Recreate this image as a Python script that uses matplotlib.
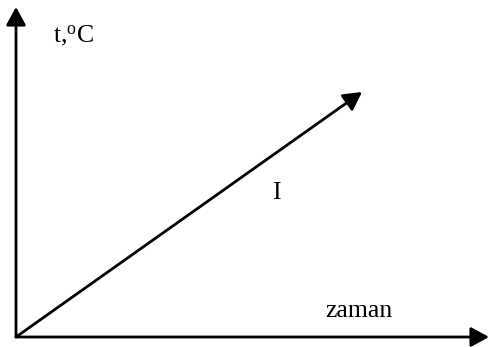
import matplotlib
matplotlib.use("Agg")
import matplotlib.pyplot as plt

# data (origin of the sketch at the corner of the two axes)
axis_x_end = [0, 473]
axis_y_end = [0, 330]
line_x = [0, 346]
line_y = [0, 245]
y_label = "t,$^{\\mathrm{o}}$C"
x_label = "zaman"
line_label = "I"

plt.rcParams['font.family'] = ['Liberation Serif', 'DejaVu Serif']
plt.rcParams['mathtext.fontset'] = 'custom'
plt.rcParams['mathtext.rm'] = 'Liberation Serif'
plt.rcParams['mathtext.it'] = 'Liberation Serif:italic'

fig = plt.figure(figsize=(4.89, 3.47), dpi=100)
ax = fig.add_axes([0, 0, 1, 1])
ax.set_xlim(-16, 473)
ax.set_ylim(-10, 337)
ax.axis('off')

style = '-|>,head_length=0.55,head_width=0.3'
kw = dict(arrowstyle=style, color='black', lw=2.0, mutation_scale=20,
          shrinkA=0, shrinkB=0)
# y axis
ax.annotate('', xy=(axis_x_end[0], axis_y_end[1]), xytext=(0, 0), arrowprops=kw)
# x axis
ax.annotate('', xy=(axis_x_end[1], axis_y_end[0]), xytext=(0, 0), arrowprops=kw)
# line I
ax.annotate('', xy=(line_x[1], line_y[1]), xytext=(line_x[0], line_y[0]), arrowprops=kw)

fs = 18.5
ax.text(37, 295, y_label, fontsize=fs, ha='left', va='baseline')
ax.text(309, 20, x_label, fontsize=fs, ha='left', va='baseline')
ax.text(260, 138, line_label, fontsize=fs, ha='center', va='baseline')

fig.savefig('out.png', dpi=100)
